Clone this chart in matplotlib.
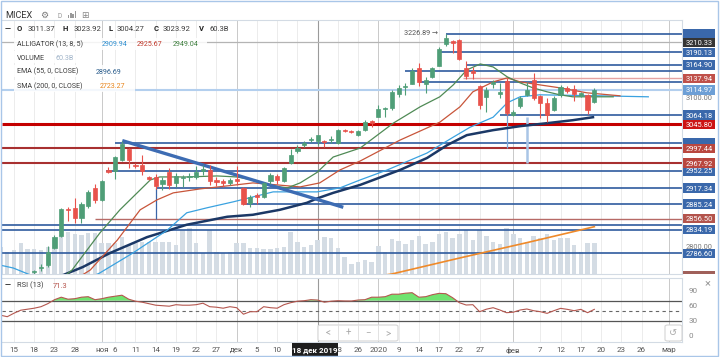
import matplotlib
matplotlib.use("Agg")
import matplotlib.pyplot as plt
import matplotlib.transforms as mtransforms
from matplotlib.patches import Rectangle, FancyBboxPatch
import numpy as np

plt.rcParams['font.family'] = ['Roboto', 'DejaVu Sans']

##  Daily candles of MICEX, index 0 = 15 Oct 2019 (trading days)
first_day = -2
opens = [2738, 2735, 2739, 2741, 2737, 2749, 2757, 2763, 2797, 2822, 2876, 2878, 2857, 2882, 2917,
         2894, 2954, 2951, 2974, 2997, 2964, 2963, 2939, 2939, 2925, 2950, 2928, 2938, 2939, 2939,
         2952, 2953, 2934, 2931, 2927, 2935, 2917, 2887, 2903, 2900, 2931, 2942, 2932, 2969, 2993,
         3004, 3014, 3011.37, 3013, 3015, 3009, 3034, 3033, 3025, 3034, 3053, 3061, 3076, 3078, 3107,
         3121, 3127, 3158, 3127, 3141, 3163, 3208, 3214, 3215, 3158, 3153, 3123, 3101, 3126, 3106,
         3133, 3065, 3083, 3105, 3135, 3103, 3088, 3075, 3105, 3118, 3116, 3103, 3105, 3091]
highs = [2743, 2741, 2744, 2743, 2744, 2754, 2765, 2801, 2823, 2878, 2879, 2898, 2890, 2913, 2925,
         2934, 2960, 2983, 3013, 2999, 2968, 2984, 2941, 2945, 2939, 2957, 2947, 2944, 2948, 2961,
         2964, 2964, 2940, 2936, 2938, 2961, 2920, 2904, 2907, 2930, 2948, 2946, 2960, 2996, 3004,
         3013, 3021, 3023.92, 3015, 3022, 3036, 3037, 3035, 3035, 3055, 3055, 3085, 3080, 3114, 3125,
         3128, 3158, 3168, 3140, 3160, 3202, 3226.89, 3216, 3218, 3172, 3161, 3125, 3121, 3135, 3128,
         3138, 3075, 3102, 3131, 3148, 3105, 3098, 3102, 3124, 3122, 3124, 3111, 3107, 3118]
lows = [2730, 2729, 2733, 2735, 2734, 2745, 2752, 2760, 2795, 2820, 2852, 2848, 2847, 2878, 2888,
        2892, 2947, 2936, 2972, 2958, 2957, 2943, 2933, 2915, 2914, 2916, 2919, 2920, 2932, 2935,
        2944, 2924, 2922, 2920, 2924, 2924, 2884, 2880, 2886, 2898, 2926, 2926, 2930, 2967, 2989,
        3000, 3010, 3004.27, 3001, 3009, 3006, 3030, 3029, 3022, 3033, 3041, 3060, 3061, 3075, 3100,
        3104, 3126, 3122, 3108, 3138, 3162, 3204, 3189, 3175, 3136, 3136, 3076, 3071, 3118, 3098,
        3064, 3062, 3078, 3102, 3094, 3058, 3051, 3073, 3101, 3109, 3093, 3100, 3067, 3089]
closes = [2735, 2739, 2741, 2737, 2742, 2751, 2760, 2790, 2820, 2875, 2874, 2857, 2886, 2910, 2894,
          2931, 2950, 2981, 3007, 2974, 2962, 2952, 2935, 2922, 2934, 2924, 2942, 2940, 2941, 2949,
          2956, 2932, 2930, 2928, 2934, 2932, 2886, 2899, 2899, 2927, 2944, 2933, 2957, 2984, 2998,
          3009, 3016, 3023.92, 3010, 3017, 3034, 3032, 3031, 3033, 3051, 3048, 3077, 3079, 3111, 3118,
          3123, 3153, 3131, 3135, 3158, 3198, 3220, 3210, 3176, 3143, 3148, 3085, 3115, 3130, 3111,
          3068, 3071, 3098, 3115, 3098, 3089, 3065, 3098, 3121, 3113, 3107, 3109, 3075, 3115]
volumes = [47.8, 38.9, 42.5, 54.9, 44.3, 44.3, 42.5, 47.8, 60.2, 69.0, 74.3, 70.8, 69.0, 72.6, 72.6,
           54.9, 54.9, 54.9, 65.5, 51.3, 54.9, 56.6, 56.6, 56.6, 56.6, 56.6, 51.3, 77.9, 81.4, 54.9,
           37.2, 77.9, 38.9, 37.2, 38.9, 54.9, 54.9, 46.0, 46.0, 44.3, 44.3, 46.0, 47.8, 74.3, 56.6,
           47.8, 51.3, 60.3, 65.5, 63.7, 46.0, 30.1, 17.7, 21.2,
           24.8, 21.2, 49.6, 38.9, 62.0, 58.4, 53.1, 60.2, 67.3, 53.1, 56.6, 70.8, 74.3, 63.7, 70.8,
           77.9, 60.2, 77.9, 67.3, 56.6, 53.1, 81.4, 70.8, 63.7, 56.6, 67.3, 63.7, 70.8, 60.2, 63.7,
           63.7, 51.3, 38.9, 54.9, 54.9]

##  Indicator lines (day index, price)
jaw_day = [-2.1, -0.1, 2.8, 6, 10, 12.7, 17.6, 22.7, 25.6, 28.6, 32.5, 38.4, 42.4, 44.9, 48.3, 51.3,
           55.3, 61.2, 65.1, 67.6, 71.0, 73.1, 75.0, 77.9, 86.8, 94.0]
jaw_val = [2763, 2757, 2741, 2728, 2730, 2747, 2787, 2833, 2868, 2878, 2890, 2910, 2910, 2910, 2918, 2934,
           2954, 2988, 3020, 3040, 3060, 3089, 3101, 3105, 3103, 3101]
teeth_day = [8, 11.3, 15.3, 18.7, 21.2, 23.6, 27.6, 31.6, 35.4, 39.0, 42.4, 45.3, 48.3, 51.3, 57.2,
             63.1, 66.1, 68.0, 71.0, 73.1, 75.0, 77.9, 80.9, 84.9, 89.8]
teeth_val = [2725, 2753, 2813, 2874, 2894, 2908, 2916, 2922, 2928, 2924, 2920, 2928, 2954, 2972, 3014,
             3050, 3081, 3111, 3131, 3139, 3131, 3125, 3119, 3109, 3103]
lips_day = [6, 8.6, 12.7, 15.7, 18.7, 20.2, 21.6, 25.6, 30.1, 33.0, 35.4, 37.5, 40.5, 42.4, 44.9, 47.3,
            51.3, 56.2, 60.2, 63.1, 65.1, 67.1, 69.1, 71.0, 73.1, 75.0, 76.9, 79.0, 80.9, 82.8, 85.8, 88.8]
lips_val = [2725, 2753, 2827, 2874, 2914, 2934, 2940, 2940, 2942, 2940, 2934, 2924, 2918, 2928, 2949, 2980,
            2998, 3048, 3081, 3101, 3125, 3155, 3167, 3161, 3141, 3129, 3119, 3111, 3105, 3101, 3101, 3101]
ema_day = [4, 7.3, 10.2, 14.2, 19.7, 25.6, 31.6, 35.4, 39.4, 43.4, 44.9, 47.3, 51.3, 57.2, 61.2, 64.2,
           67.1, 71.0, 75.0, 79.0, 82.8, 85.8]
ema_val = [2725, 2743, 2759, 2787, 2819, 2844, 2860, 2864, 2874, 2888, 2896.69, 2908, 2924, 2954, 2978,
           3004, 3024, 3034, 3042, 3048, 3054, 3060]
sma_day = [45, 56, 66, 76, 86]
sma_val = [2723.27, 2745, 2777, 2808, 2840]

##  RSI (13)
rsi_day = list(range(-2, 87))
rsi_val = [41, 38, 45, 51, 53, 55, 58, 64, 72, 77, 73, 74, 77, 78, 72, 74, 77, 79, 81, 73, 69, 67, 64, 61,
           60, 59, 62, 61, 61, 62, 65, 58, 57, 55, 58, 56, 43, 48, 48, 58, 56, 55, 62, 66, 69, 70, 72, 71.3,
           67, 69, 70, 69.5, 69.4, 71.4, 72, 77, 77, 78, 83, 83, 85, 86, 77, 78, 82, 84.7, 84, 76, 66, 61.4,
           62, 48, 53, 56, 51.4, 46, 47, 51.4, 53.4, 50, 48, 44.7, 50, 54.7, 52.7, 50, 52.7, 46, 52.7]

##  Drawn levels
blue_levels = [3226.89, 3190.13, 3164.90, 3153.50, 3130.20, 3064.18, 3008.93, 2952.25, 2917.34, 2885.24,
               2844.00, 2834.19, 2786.60]
blue_from = [64, 63, 67, 58, 60, 72, 15, 13.7, 21, 34, -2, -2, -2]
red_levels = [3137.94, 3045.80, 2997.44, 2967.92, 2856.50]
red_from = [66.5, -2, -2, -2, 12]
last_price = 3114.97
prev_level = 3210.33
trend_day = [16.05, 48.8]
trend_val = [3013, 2879]
mark_day = [21, 73, 76]
mark_lo = [2856.5, 2998, 2968]
mark_hi = [2917.34, 3064.18, 3061]

##  Right-hand price labels (drawn bottom to top); covered ones carry no readable text
label_values = [3226.89, 3114.97, 3008.93, 2952.25, 3190.13, 3210.33, 3164.90, 3137.94, 3064.18, 3045.80,
                2997.44, 2967.92, 2917.34, 2885.24, 2856.50, 2834.19, 2786.60]
label_shown = [False, True, False, True, True, True, True, True, True, True,
               True, True, True, True, True, True, True]
label_colors = ['#3a68ab', '#6d9fd6', '#3a68ab', '#3a68ab', '#3a68ab', '#353535', '#3a68ab', '#c0504a',
                '#3a68ab', '#cc1414', '#b9473f', '#b9473f', '#3a68ab', '#3a68ab', '#b3534c', '#3a68ab', '#3a68ab']
axis_prices = [2800, 3100]

##  Date ticks
tick_day = [0, 3, 6, 9, 13, 15, 18, 21, 24, 27, 30, 33, 36, 39, 48, 51, 54, 57, 60, 63, 66, 69, 74,
            78, 81, 84, 87, 90, 93, 97]
tick_text = ['15', '18', '23', '28', 'ноя', '6', '11', '14', '19', '22', '27', 'дек', '5', '10',
             '23', '26', '2020', '9', '14', '17', '22', '27', 'фев', '7', '12', '17', '20', '23', '26', 'мар']
month_day = [13, 33, 54, 74, 97]
cross_day = 45


W, H = 720.0, 357.0
def fx(px):
    return px / W
def fy(py):
    return 1 - py / H

fig = plt.figure(figsize=(7.2, 3.57), dpi=100)
xlim = ((2 - 14) / 6.748, (682 - 14) / 6.748)

ax = fig.add_axes([fx(2), fy(274), 680 / W, 254 / H])
vol = ax.twinx()
rsi_ax = fig.add_axes([fx(2), fy(342), 680 / W, 64 / H])
vol.set_zorder(0)
ax.set_zorder(1)
ax.patch.set_visible(False)

days = np.arange(first_day, first_day + len(opens))
o, h, l, c = map(np.array, (opens, highs, lows, closes))
cols = np.where(c >= o, '#4f9e77', '#e8524b')

# volume + vertical grid (bottom layer)
vol.bar(days, volumes, width=0.66, color='#d4dce4', zorder=2)
for d in tick_day + [42]:
    col = '#c9c9c9' if d in month_day else '#ececec'
    vol.axvline(d, color=col, lw=0.7, zorder=0)
    rsi_ax.axvline(d, color=col, lw=0.7, zorder=0)
vol.axvline(cross_day, color='#9a9a9a', lw=0.8, zorder=1)
rsi_ax.axvline(cross_day, color='#9a9a9a', lw=0.8, zorder=1)
vol.set_ylim(0, 450)
vol.set_xlim(*xlim)
vol.set_axis_off()

# levels
ax.axhline(prev_level, color='#b4b4b4', lw=0.9, zorder=2)
ax.axhline(last_price, color='#b3cfee', lw=1.5, zorder=2)
for v, s in zip(blue_levels, blue_from):
    ax.hlines(v, max(s, xlim[0]), xlim[1], color='#2f5b9e', lw=1.2, zorder=2)
for v, s, col, w in zip(red_levels, red_from, ['#e4a3a3', '#c40000', '#a83030', '#a83030', '#b76a66'],
                        [1.0, 2.2, 1.5, 1.5, 1.0]):
    ax.hlines(v, max(s, xlim[0]), xlim[1], color=col, lw=w, zorder=2)
for d, lo, hi, col, w in zip(mark_day, mark_lo, mark_hi, ['#3b66a8', '#7aa6d8', '#a9c5e6'], [0.9, 0.9, 1.8]):
    ax.vlines(d, lo, hi, color=col, lw=w, zorder=2)

# indicators
ax.plot(sma_day, sma_val, color='#ef8a2a', lw=1.2, zorder=3)
ax.plot(ema_day, ema_val, color='#1b3866', lw=1.8, zorder=3)
ax.plot(jaw_day, jaw_val, color='#3aa2e0', lw=0.9, zorder=3)
ax.plot(teeth_day, teeth_val, color='#c8553a', lw=0.9, zorder=3)
ax.plot(lips_day, lips_val, color='#4f8a55', lw=0.9, zorder=3)
ax.plot(trend_day, trend_val, color='#3d6cb3', lw=2.4, zorder=3, solid_capstyle='butt')

# candles
ax.vlines(days, l, h, colors=cols, lw=0.8, zorder=4)
ax.bar(days, np.abs(c - o), bottom=np.minimum(o, c), width=0.62, color=cols, edgecolor=cols, lw=0.5, zorder=5)
ax.text(62.8, 3228, '3226.89 →', ha='right', va='center', fontsize=5.2, color='#555555', zorder=6)

ax.set_xlim(*xlim)
ax.set_ylim(2745.0, 3255.3)
ax.set_yticks(axis_prices)
ax.yaxis.set_major_formatter(matplotlib.ticker.FormatStrFormatter('%.2f'))
ax.yaxis.tick_right()
ax.tick_params(axis='y', length=0, pad=2.5, labelsize=5.4, labelcolor='#777777')
ax.tick_params(axis='x', bottom=False, labelbottom=False)
for sp in ax.spines.values():
    sp.set_color('#d3dbe4')
    sp.set_linewidth(0.8)
ax.spines['left'].set_visible(False)

# RSI panel
rsi_ax.set_xlim(*xlim)
rsi_ax.set_ylim(-12.6, 115.4)
r = np.array(rsi_val)
rsi_ax.fill_between(rsi_day, r, 70, where=r >= 70, interpolate=True, color='#6fe36f', lw=0, zorder=2)
rsi_ax.plot(rsi_day, r, color='#b5574f', lw=0.8, zorder=3)
rsi_ax.axhline(70, color='#555555', lw=0.9, zorder=2)
rsi_ax.axhline(30, color='#555555', lw=0.9, zorder=2)
rsi_ax.axhline(50, color='#666666', lw=0.8, ls=(0, (3, 3)), zorder=2)
rsi_ax.set_yticks([0, 30, 60, 90])
rsi_ax.yaxis.tick_right()
rsi_ax.tick_params(axis='y', length=0, pad=5, labelsize=5.8, labelcolor='#888888')
rsi_ax.set_xticks(tick_day)
rsi_ax.set_xticklabels(tick_text)
rsi_ax.tick_params(axis='x', length=0, pad=3.5, labelsize=5.8, labelcolor='#555555')
for sp in rsi_ax.spines.values():
    sp.set_color('#d3dbe4')
    sp.set_linewidth(0.8)
rsi_ax.spines['left'].set_visible(False)

# price labels on the right
lab_tr = mtransforms.blended_transform_factory(fig.transFigure, ax.transData)
for k, (v, shown, col) in enumerate(zip(label_values, label_shown, label_colors)):
    fig.add_artist(Rectangle((fx(683), v - 9.5), fx(715) - fx(683), 19, transform=lab_tr,
                             fc=col, ec='none', zorder=10 + 2 * k))
    if shown:
        fig.text(fx(699), v, f'{v:.2f}', transform=lab_tr, ha='center', va='center_baseline',
                 fontsize=5.4, color='white', zorder=11 + 2 * k)
fig.add_artist(Rectangle((fx(683), fy(273.5)), 32 / W, 3 / H, fc='#a0605a', ec='none', zorder=9))

# header
def hdr(px, py, s, color='#3c3c3c', size=5.6, weight='normal'):
    fig.text(fx(px), fy(py), s, ha='left', va='baseline', fontsize=size, color=color, weight=weight)

hdr(5, 17.5, 'MICEX', '#333333', 6.6)
hdr(40, 17.5, '⚙', '#777777', 6.5)
hdr(57, 18, 'D', '#999999', 4.8)
for k, bh in enumerate([3, 5, 4, 7]):
    fig.add_artist(Rectangle((fx(68 + 2.2 * k), fy(18)), 1.3 / W, bh / H, fc='#9a9a9a', ec='none'))
hdr(81, 18, '⊞', '#888888', 6.5)

hdr(5, 31, '—', '#222222', 5.6, 'bold')
for px, s, b in [(17, 'O', True), (28, '3011.37', False), (63, 'H', True), (74, '3023.92', False),
                 (109, 'L', True), (117, '3004.27', False), (154, 'C', True), (163, '3023.92', False),
                 (199, 'V', True), (210, '60.3B', False)]:
    hdr(px, 31, s, '#222222' if b else '#3c3c3c', 5.5, 'bold' if b else 'normal')

rows = [(46, [(17, 'ALLIGATOR (13, 8, 5)', '#3c3c3c'), (102, '2909.94', '#2f8fd0'),
              (137, '2925.67', '#c0392b'), (173, '2949.04', '#3f7f3f')], 207),
        (59.5, [(17, 'VOLUME', '#3c3c3c'), (56, '60.3B', '#9fb3c8')], 80),
        (73.5, [(17, 'EMA (55, 0, CLOSE)', '#3c3c3c'), (96, '2896.69', '#2b5d8c')], 130),
        (88, [(17, 'SMA (200, 0, CLOSE)', '#3c3c3c'), (100, '2723.27', '#e8841a')], 135)]
for py, parts, right in rows:
    fig.add_artist(Rectangle((fx(14), fy(py + 3.5)), (right - 14) / W, 12 / H, fc='white', ec='none',
                             alpha=0.85, zorder=8))
    for px, s, col in parts:
        fig.text(fx(px), fy(py), s, ha='left', va='baseline', fontsize=5.1, color=col, zorder=9)

hdr(5, 287.5, '—', '#222222', 5.6, 'bold')
hdr(17, 287.5, 'RSI (13)', '#3c3c3c', 5.4)
hdr(53, 287.5, '71.3', '#b5524a', 5.4)
fig.text(fx(708), fy(283), '×', ha='center', va='center', fontsize=8, color='#9a9a9a')

# crosshair date
fig.add_artist(Rectangle((fx(292), fy(357)), 46 / W, 14 / H, fc='#1e1e1e', ec='none', zorder=20))
fig.text(fx(315), fy(350), '18 дек 2019', ha='center', va='center', fontsize=5.8, color='white',
         weight='bold', zorder=21)

# navigation buttons
fig.add_artist(FancyBboxPatch((fx(318), fy(341)), 80 / W, 16 / H, boxstyle='round,pad=0,rounding_size=0.004',
                              fc='white', ec='#d5d5d5', lw=0.8, zorder=15))
for sx in [338, 358, 378]:
    fig.add_artist(Rectangle((fx(sx), fy(341)), 0.8 / W, 16 / H, fc='#e2e2e2', ec='none', zorder=16))
for px, s in [(328, '<'), (348, '+'), (368, '−'), (388, '>')]:
    fig.text(fx(px), fy(333), s, ha='center', va='center', fontsize=7, color='#aaaaaa', zorder=17)
fig.add_artist(FancyBboxPatch((fx(665), fy(341)), 17 / W, 16 / H, boxstyle='round,pad=0,rounding_size=0.004',
                              fc='white', ec='#d5d5d5', lw=0.8, zorder=15))
fig.text(fx(673.5), fy(333), '↺', ha='center', va='center', fontsize=7, color='#aaaaaa', zorder=17)

# outer frame
fig.add_artist(Rectangle((fx(1), fy(356)), 717 / W, 355 / H, fill=False, ec='#a9c6e8', lw=1.0, zorder=30))

fig.savefig('out.png', dpi=100)
plt.close(fig)
